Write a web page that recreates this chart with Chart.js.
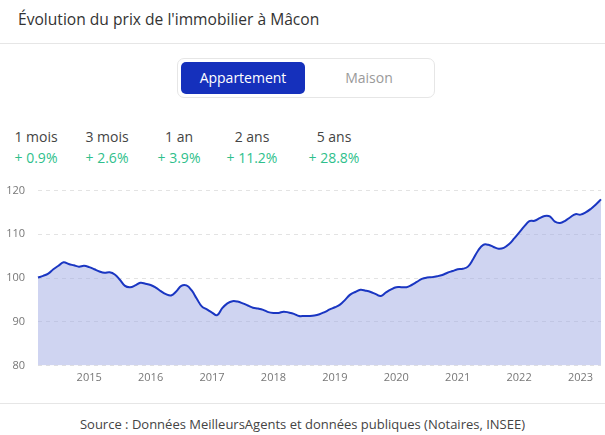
<!DOCTYPE html>
<html>
<head>
<meta charset="utf-8">
<script src="https://cdn.jsdelivr.net/npm/chart.js@4.4.1/dist/chart.umd.min.js"></script>
<style>
  body { margin: 0; width: 605px; height: 435px; background: #fff; font-family: 'Open Sans', sans-serif; position: relative; overflow: hidden; }
  .title { position: absolute; left: 18px; top: 8px; font-size: 15.6px; color: #333; font-family: 'Open Sans', sans-serif; }
  .sep { position: absolute; left: 0; width: 605px; height: 1px; background: #e6e6e6; }
  .toggle { position: absolute; left: 177px; top: 58px; width: 256px; height: 38px; border: 1px solid #e6e6e6; border-radius: 7px; }
  .btn { position: absolute; top: 3px; height: 32px; line-height: 32px; text-align: center; font-size: 14px; }
  .btn.on { left: 3px; width: 124px; background: #1530bc; color: #fff; border-radius: 5px; }
  .btn.off { left: 128px; width: 126px; color: #9a9a9a; }
  .stat { position: absolute; width: 80px; margin-left: -40px; text-align: center; font-size: 14px; }
  .stat .l { color: #444; }
  .stat .v { color: #2fbf8c; margin-top: 2px; }
  .src { position: absolute; left: 0; width: 605px; top: 415px; text-align: center; font-size: 13px; color: #444; }
  #wrap { position: absolute; left: 0; top: 171px; width: 605px; height: 214px; }
</style>
</head>
<body>
<div class="title">Évolution du prix de l'immobilier à Mâcon</div>
<div class="sep" style="top:43px"></div>
<div class="toggle">
  <div class="btn on">Appartement</div>
  <div class="btn off">Maison</div>
</div>
<div id="stats"></div>
<div id="wrap"><canvas id="chart"></canvas></div>
<div class="sep" style="top:403px"></div>
<div class="src">Source : Données MeilleursAgents et données publiques (Notaires, INSEE)</div>

<script>
// variations affichées au-dessus du graphique
const periods = ['1 mois', '3 mois', '1 an', '2 ans', '5 ans'];
const variations = ['+ 0.9%', '+ 2.6%', '+ 3.9%', '+ 11.2%', '+ 28.8%'];
const statCenters = [36, 107, 179, 252, 334];

// indice mensuel, mars 2014 -> mai 2023
const firstMonth = { year: 2014, month: 3 };
const priceIndex = [
  100.1, 100.5, 101.0, 102.0, 102.8, 103.6, 103.2, 102.9, 102.6, 102.8,
  102.5, 102.0, 101.5, 101.2, 101.3, 100.8, 99.6, 98.2, 97.9, 98.3,
  98.9, 98.7, 98.4, 97.8, 97.0, 96.3, 96.0, 96.9, 98.2, 98.3,
  97.2, 95.3, 93.5, 92.8, 92.1, 91.5, 93.1, 94.2, 94.7, 94.6,
  94.2, 93.7, 93.2, 93.0, 92.7, 92.2, 92.0, 92.0, 92.3, 92.1,
  91.8, 91.3, 91.3, 91.3, 91.4, 91.7, 92.2, 92.8, 93.3, 93.9,
  95.0, 96.2, 96.8, 97.3, 97.1, 96.8, 96.3, 95.9, 96.7, 97.4,
  97.9, 97.9, 97.9, 98.4, 99.1, 99.8, 100.1, 100.2, 100.4, 100.7,
  101.2, 101.6, 102.0, 102.1, 102.6, 104.3, 106.3, 107.6, 107.6, 107.1,
  106.7, 106.9, 107.7, 109.0, 110.4, 111.8, 113.0, 113.1, 113.7, 114.2,
  114.1, 112.9, 112.6, 113.1, 113.9, 114.6, 114.5, 115.0, 115.8, 116.8,
  118.0
];
const yTicks = [80, 90, 100, 110, 120];

const months = priceIndex.map((v, i) => {
  const m = firstMonth.month - 1 + i;
  const y = firstMonth.year + Math.floor(m / 12);
  return y + '-' + String(m % 12 + 1).padStart(2, '0');
});

const stats = document.getElementById('stats');
periods.forEach((p, i) => {
  const d = document.createElement('div');
  d.className = 'stat';
  d.style.left = statCenters[i] + 'px';
  d.style.top = '127px';
  d.innerHTML = '<div class="l">' + p + '</div><div class="v">' + variations[i] + '</div>';
  stats.appendChild(d);
});

const tickFont = { family: 'Open Sans', size: 11 };

new Chart(document.getElementById('chart'), {
  type: 'line',
  data: {
    labels: months,
    datasets: [{
      data: priceIndex,
      borderColor: '#1a36c2',
      backgroundColor: 'rgba(160, 170, 228, 0.5)',
      borderWidth: 2,
      fill: 'start',
      tension: 0.4,
      pointRadius: 0
    }]
  },
  options: {
    responsive: true,
    maintainAspectRatio: false,
    animation: false,
    layout: { padding: { top: 10, right: 4, left: 0, bottom: 0 } },
    plugins: { legend: { display: false }, tooltip: { enabled: false } },
    scales: {
      x: {
        offset: false,
        grid: { display: false, drawTicks: false },
        border: { display: false },
        ticks: {
          autoSkip: false,
          maxRotation: 0,
          padding: 6,
          color: '#777',
          font: tickFont,
          callback: function (val, idx) {
            const lab = this.getLabelForValue(val);
            return lab.endsWith('-01') ? lab.slice(0, 4) : null;
          }
        },
        afterFit: s => { s.height = 19; }
      },
      y: {
        min: 80,
        max: 120,
        afterBuildTicks: s => { s.ticks = yTicks.map(v => ({ value: v })); },
        grid: { color: '#e3e3e3', drawTicks: false },
        border: { display: false, dash: [4, 4] },
        ticks: { padding: 13, color: '#777', font: tickFont },
        afterFit: s => { s.width = 38; }
      }
    }
  }
});
</script>
</body>
</html>
